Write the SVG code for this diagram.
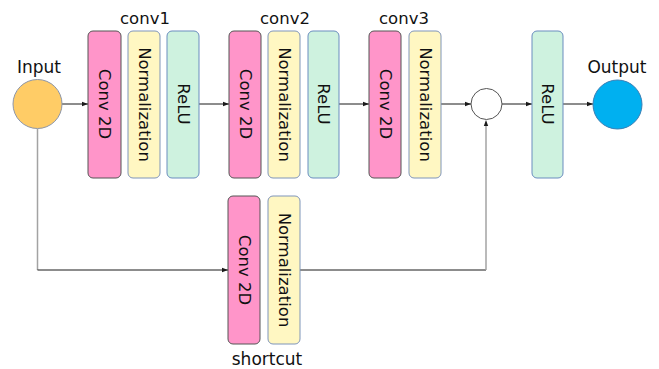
<svg xmlns="http://www.w3.org/2000/svg" width="659" height="369" viewBox="0 0 659 369">
  <style>
    text { font-family: "DejaVu Sans", Verdana, sans-serif; fill: #111; }
    .lbl { font-size: 17px; text-anchor: middle; }
    .blk { font-size: 16.5px; text-anchor: middle; }
    .vt { font-size: 16.5px; text-anchor: middle; dominant-baseline: central; }
    .conv { fill: #FF95C9; stroke: #555; stroke-width: 1; }
    .norm { fill: #FFF7C2; stroke: #7F95BA; stroke-width: 1; }
    .relu { fill: #CEF2DF; stroke: #6A8DBF; stroke-width: 1; }
    .main { stroke: #1a1a1a; stroke-width: 1; fill: none; }
    .side { stroke: #A3A3A3; stroke-width: 1.5; fill: none; }
  </style>
  <defs>
    <marker id="arr" viewBox="0 0 6 6" refX="6" refY="3" markerWidth="6" markerHeight="6" markerUnits="userSpaceOnUse" orient="auto">
      <path d="M0,0.8 L6,3 L0,5.2 Z" fill="#1a1a1a"/>
    </marker>
  </defs>

  <rect width="659" height="369" fill="#fff"/>

  <!-- connectors -->
  <g id="connectors">
    <line class="main" x1="62" y1="104" x2="88" y2="104" marker-end="url(#arr)"/>
    <line class="main" x1="199" y1="104" x2="229" y2="104" marker-end="url(#arr)"/>
    <line class="main" x1="339" y1="104" x2="369" y2="104" marker-end="url(#arr)"/>
    <line class="main" x1="441" y1="104" x2="471" y2="104" marker-end="url(#arr)"/>
    <line class="main" x1="502" y1="104" x2="532" y2="104" marker-end="url(#arr)"/>
    <line class="main" x1="563" y1="104" x2="593" y2="104" marker-end="url(#arr)"/>
    <line class="side" x1="37.5" y1="129" x2="37.5" y2="270"/>
    <line class="main" x1="37.5" y1="270" x2="228" y2="270" marker-end="url(#arr)"/>
    <line class="main" x1="300" y1="270" x2="486" y2="270"/>
    <line class="side" x1="486" y1="270" x2="486" y2="126"/>
    <path d="M483.8,126 L486,120 L488.2,126 Z" fill="#1a1a1a"/>
  </g>

  <!-- input -->
  <g id="input">
    <circle cx="37.5" cy="104" r="24.5" fill="#FFCC66" stroke="#8C96AA" stroke-width="1"/>
    <text class="lbl" x="39" y="73">Input</text>
  </g>

  <!-- conv1 -->
  <g id="conv1">
    <text class="blk" x="145" y="24">conv1</text>
    <g id="conv1-conv">
      <rect class="conv" x="88" y="31" width="33" height="147" rx="5"/>
      <text class="vt" transform="translate(104.5,104) rotate(90)">Conv 2D</text>
    </g>
    <g id="conv1-norm">
      <rect class="norm" x="128" y="31" width="32" height="147" rx="5"/>
      <text class="vt" transform="translate(144,104.5) rotate(90)">Normalization</text>
    </g>
    <g id="conv1-relu">
      <rect class="relu" x="167" y="31" width="32" height="147" rx="5"/>
      <text class="vt" transform="translate(183,104) rotate(90)">ReLU</text>
    </g>
  </g>

  <!-- conv2 -->
  <g id="conv2">
    <text class="blk" x="285" y="24">conv2</text>
    <g id="conv2-conv">
      <rect class="conv" x="229" y="31" width="32" height="147" rx="5"/>
      <text class="vt" transform="translate(245,104) rotate(90)">Conv 2D</text>
    </g>
    <g id="conv2-norm">
      <rect class="norm" x="268" y="31" width="32" height="147" rx="5"/>
      <text class="vt" transform="translate(284,104.5) rotate(90)">Normalization</text>
    </g>
    <g id="conv2-relu">
      <rect class="relu" x="308" y="31" width="31" height="147" rx="5"/>
      <text class="vt" transform="translate(323.5,104) rotate(90)">ReLU</text>
    </g>
  </g>

  <!-- conv3 -->
  <g id="conv3">
    <text class="blk" x="404" y="24">conv3</text>
    <g id="conv3-conv">
      <rect class="conv" x="369" y="31" width="32" height="147" rx="5"/>
      <text class="vt" transform="translate(385,104) rotate(90)">Conv 2D</text>
    </g>
    <g id="conv3-norm">
      <rect class="norm" x="409" y="31" width="32" height="147" rx="5"/>
      <text class="vt" transform="translate(425,104.5) rotate(90)">Normalization</text>
    </g>
  </g>

  <!-- residual sum -->
  <g id="sum">
    <circle cx="486.5" cy="104" r="15.5" fill="#fff" stroke="#555" stroke-width="1"/>
  </g>

  <!-- final activation -->
  <g id="relu-out">
    <rect class="relu" x="532" y="31" width="31" height="147" rx="5"/>
    <text class="vt" transform="translate(547.5,104) rotate(90)">ReLU</text>
  </g>

  <!-- output -->
  <g id="output">
    <circle cx="617.5" cy="104.5" r="24.5" fill="#00B0F0" stroke="#3A7FB5" stroke-width="1"/>
    <text class="lbl" x="617" y="73">Output</text>
  </g>

  <!-- shortcut branch -->
  <g id="shortcut">
    <g id="shortcut-conv">
      <rect class="conv" x="228" y="196" width="32" height="148" rx="5"/>
      <text class="vt" transform="translate(244,270) rotate(90)">Conv 2D</text>
    </g>
    <g id="shortcut-norm">
      <rect class="norm" x="268" y="196" width="32" height="148" rx="5"/>
      <text class="vt" transform="translate(284,270) rotate(90)">Normalization</text>
    </g>
    <text class="lbl" x="267" y="365">shortcut</text>
  </g>
</svg>
